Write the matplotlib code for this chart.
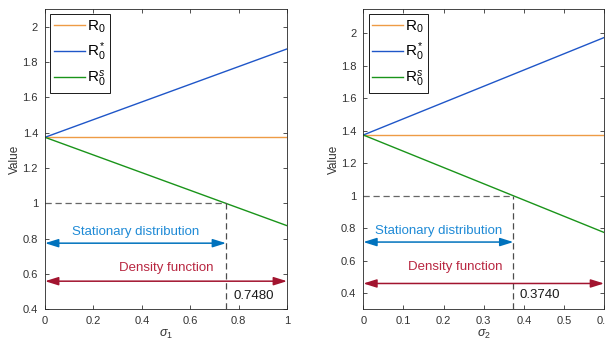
import matplotlib
matplotlib.use("Agg")
import matplotlib.pyplot as plt
import numpy as np

plt.rcParams['font.family'] = ['Liberation Sans', 'DejaVu Sans']
plt.rcParams['mathtext.fontset'] = 'custom'
plt.rcParams['mathtext.rm'] = 'Liberation Sans'
plt.rcParams['mathtext.it'] = 'Liberation Sans:italic'

# basic reproduction number and the two noise-dependent thresholds
r0 = 1.374
sigma_max = [1.0, 0.6]
slopes = [0.5, 1.0]
crit_sigma = [0.748, 0.374]
crit_labels = ['0.7480', '0.3740']
xlabels = [r'$\sigma_1$', r'$\sigma_2$']
ylims = [(0.4, 2.1), (0.3, 2.15)]
xtick_sets = [np.arange(0, 1.01, 0.2), np.arange(0, 0.61, 0.1)]
ytick_sets = [np.arange(0.4, 2.01, 0.2), np.arange(0.4, 2.01, 0.2)]
stat_y = [0.775, 0.715]
dens_y = [0.56, 0.46]

c_r0 = '#EE9B45'
c_star = '#1F56C8'
c_s = '#1A941A'
c_blue = '#0072BD'
c_blue_txt = '#1E8AD6'
c_red = '#A2142F'
c_red_txt = '#B82640'

fig = plt.figure(figsize=(6.05, 3.45), dpi=100)
axes = [fig.add_axes([0.0744, 0.103, 0.400, 0.871]),
        fig.add_axes([0.6005, 0.103, 0.398, 0.871])]

txt_pos = [
    dict(stat=(0.375, 0.84), dens=(0.5, 0.636), crit=(0.864, 0.479)),
    dict(stat=(0.187, 0.783), dens=(0.23, 0.564), crit=(0.4386, 0.391)),
]

arrow_style = '<|-|>,head_length=0.8,head_width=0.25'

for k, ax in enumerate(axes):
    x = np.linspace(0, sigma_max[k], 50)
    ax.plot(x, np.full_like(x, r0), color=c_r0, lw=1.0, label=r'R$_0$')
    ax.plot(x, r0 + slopes[k] * x, color=c_star, lw=1.0, label=r'R$_0^*$')
    ax.plot(x, r0 - slopes[k] * x, color=c_s, lw=1.0, label=r'R$_0^s$')

    ylo, yhi = ylims[k]
    xc = crit_sigma[k]
    ax.plot([0, xc], [1, 1], ls=(0, (5, 3)), color='0.4', lw=0.9)
    ax.plot([xc, xc], [ylo, 1], ls=(0, (5, 3)), color='0.3', lw=0.9)

    ax.annotate('', xy=(xc, stat_y[k]), xytext=(0, stat_y[k]),
                arrowprops=dict(arrowstyle=arrow_style,
                                color=c_blue, lw=1.1, shrinkA=0, shrinkB=0))
    ax.annotate('', xy=(sigma_max[k], dens_y[k]), xytext=(0, dens_y[k]),
                arrowprops=dict(arrowstyle=arrow_style,
                                color=c_red, lw=1.1, shrinkA=0, shrinkB=0))
    p = txt_pos[k]
    ax.text(*p['stat'], 'Stationary distribution', color=c_blue_txt,
            fontsize=9.5, ha='center', va='center')
    ax.text(*p['dens'], 'Density function', color=c_red_txt,
            fontsize=9.5, ha='center', va='center')
    ax.text(*p['crit'], crit_labels[k], color='0.1',
            fontsize=9.5, ha='center', va='center')

    ax.set_xlim(0, sigma_max[k])
    ax.set_ylim(ylo, yhi)
    ax.set_xticks(xtick_sets[k])
    ax.set_xticklabels(['%g' % v for v in xtick_sets[k]])
    ax.set_yticks(ytick_sets[k])
    ax.set_yticklabels(['%g' % round(v, 1) for v in ytick_sets[k]])
    ax.tick_params(direction='in', top=True, right=True, length=3,
                   width=0.6, labelsize=8, colors='0.2', pad=5)
    for sp in ax.spines.values():
        sp.set_linewidth(0.6)
        sp.set_color('0.15')
    ax.set_xlabel(xlabels[k], fontsize=9, color='0.2', labelpad=1)
    ax.set_ylabel('Value', fontsize=8.5, color='0.2', labelpad=1)

    leg = ax.legend(loc='upper left', fontsize=11, handlelength=2.0,
                    fancybox=False, framealpha=1, edgecolor='0.1',
                    borderaxespad=0.35, labelspacing=0.38,
                    handletextpad=0.15, borderpad=0.25)
    leg.get_frame().set_linewidth(0.7)

fig.savefig('out.png', dpi=100)
